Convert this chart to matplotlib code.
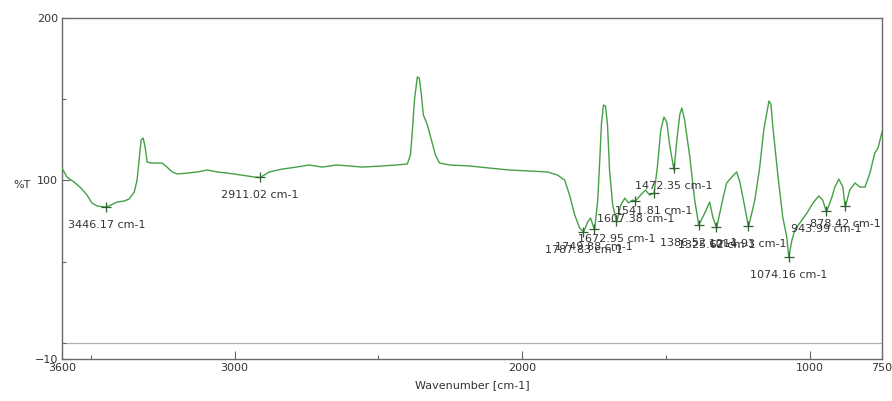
import numpy as np
import matplotlib
matplotlib.use("Agg")
import matplotlib.pyplot as plt

# FTIR spectrum
wavenumber = [3600, 3583, 3558, 3534, 3513, 3496, 3478, 3447, 3430, 3409,
              3384, 3367, 3349, 3339, 3332, 3325, 3318, 3311, 3304, 3290,
              3269, 3252, 3235, 3217, 3200, 3165, 3130, 3095, 3061, 3026,
              2977, 2932, 2911, 2880, 2834, 2786, 2741, 2695, 2647, 2601,
              2556, 2487, 2438, 2400, 2389, 2382, 2375, 2365, 2358, 2351,
              2344, 2330, 2316, 2302, 2288, 2253, 2184, 2114, 2045, 1975,
              1912, 1878, 1853, 1836, 1818, 1801, 1787, 1773, 1763, 1749,
              1738, 1731, 1725, 1718, 1711, 1704, 1697, 1686, 1672, 1658,
              1644, 1631, 1617, 1607, 1589, 1572, 1558, 1542, 1530, 1519,
              1508, 1498, 1488, 1473, 1463, 1453, 1446, 1436, 1418, 1401,
              1387, 1366, 1349, 1338, 1325, 1304, 1290, 1272, 1255, 1244,
              1227, 1214, 1192, 1175, 1161, 1150, 1143, 1136, 1130, 1112,
              1095, 1081, 1074, 1063, 1053, 1036, 1011, 990, 970, 956,
              943, 924, 914, 900, 886, 878, 862, 844, 827, 809,
              792, 775, 764, 750]
transmittance = [107.6, 102.1, 99.0, 95.3, 91.0, 86.1, 84.2, 83.6, 84.8, 86.7,
                 87.3, 88.5, 92.8, 100.2, 112.5, 124.9, 126.1, 120.5, 111.3, 110.7,
                 110.7, 110.7, 108.2, 105.2, 104.0, 104.5, 105.2, 106.4, 105.2, 104.5,
                 103.3, 102.1, 101.8, 105.2, 107.0, 108.2, 109.5, 108.2, 109.5, 108.9,
                 108.2, 108.9, 109.5, 110.1, 115.6, 131.0, 149.5, 163.7, 163.0, 152.6,
                 140.3, 134.1, 124.9, 115.6, 110.7, 109.5, 108.9, 107.6, 106.4, 105.8,
                 105.2, 103.3, 100.2, 91.0, 78.7, 70.7, 68.2, 74.4, 76.8, 69.4,
                 87.9, 112.5, 135.3, 146.4, 145.8, 134.1, 106.4, 84.8, 74.4, 84.8,
                 89.1, 86.1, 87.9, 87.3, 91.0, 94.1, 91.0, 92.2, 109.5, 131.0,
                 139.0, 135.9, 121.8, 106.4, 124.9, 140.3, 144.6, 137.2, 114.4, 87.9,
                 72.5, 79.9, 86.7, 77.4, 70.7, 87.9, 98.4, 102.1, 105.2, 99.0,
                 83.6, 71.3, 87.9, 108.2, 131.0, 142.1, 148.9, 147.0, 134.1, 103.3,
                 77.4, 65.1, 52.8, 63.3, 69.4, 73.7, 79.9, 86.1, 90.4, 87.9,
                 80.5, 89.8, 95.9, 100.8, 95.9, 83.6, 94.1, 98.4, 95.9, 95.9,
                 104.5, 116.9, 119.9, 129.8]

# picked peaks
peaks = [3446.17, 2911.02, 1787.83, 1749.88, 1672.95, 1607.38, 1541.81,
         1472.35, 1386.52, 1325.62, 1214.93, 1074.16, 943.99, 878.42]

wn = np.array(wavenumber)
tr = np.array(transmittance)
peak_t = np.interp(peaks, wn[::-1], tr[::-1])

text_color = '#333333'
line_color = '#45a045'

fig = plt.figure(figsize=(8.92, 4.01), dpi=100)
ax = fig.add_axes([0.0695, 0.1047, 0.9193, 0.8503])

ax.axhline(0, color='#b0b0b0', linewidth=0.9, zorder=1)
ax.plot(wn, tr, color=line_color, linewidth=1.0, zorder=3)
ax.plot(peaks, peak_t, linestyle='none', marker='+', markersize=7,
        markeredgewidth=0.9, color='#2f5f2f', zorder=4)

for p, t in zip(peaks, peak_t):
    ax.annotate(f'{p:.2f} cm-1', xy=(p, t), xytext=(0, -18),
                textcoords='offset pixels', ha='center', va='center',
                fontsize=8, color=text_color)

ax.set_xlim(3600, 750)
ax.set_ylim(-10, 200)
ax.set_xticks([3600, 3000, 2000, 1000, 750])
ax.set_xticklabels(['3600', '3000', '2000', '1000', '750'])
ax.set_xticks([3500, 2500, 1500], minor=True)
ax.set_yticks([-10, 100, 200])
ax.set_yticks([0, 50, 150], minor=True)
ax.tick_params(axis='both', which='major', direction='in', length=6,
               width=0.8, color='#666666', labelsize=8, labelcolor=text_color, pad=3)
ax.tick_params(axis='both', which='minor', direction='in', length=3,
               width=0.8, color='#666666')

for s in ax.spines.values():
    s.set_color('#6a6a6a')
    s.set_linewidth(1.0)

ax.set_xlabel('Wavenumber [cm-1]', fontsize=8, color=text_color, labelpad=5)
ax.set_ylabel('%T', fontsize=8, color=text_color, rotation=0, va='center')
ax.yaxis.set_label_coords(-0.049, 0.51)

fig.savefig('out.png', dpi=100)
